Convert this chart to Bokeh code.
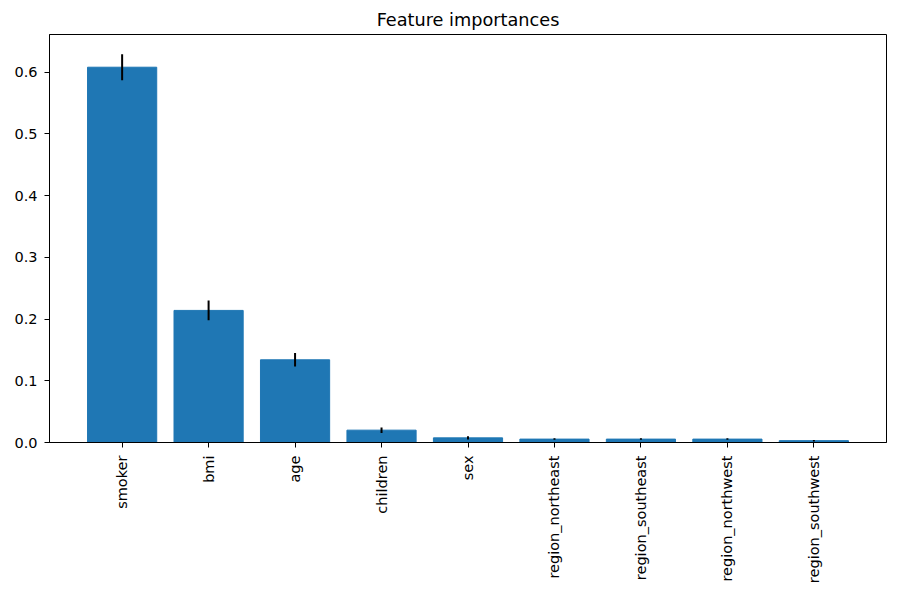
from bokeh.plotting import figure
from bokeh.models import Range1d, FixedTicker, PrintfTickFormatter, ColumnDataSource
from bokeh.embed import file_html
from bokeh.resources import INLINE
import math

features = ["smoker", "bmi", "age", "children", "sex",
            "region_northeast", "region_southeast", "region_northwest", "region_southwest"]
importances = [0.608, 0.214, 0.134, 0.020, 0.0075, 0.0055, 0.0055, 0.0055, 0.003]
std_devs = [0.021, 0.016, 0.011, 0.0045, 0.0025, 0.0012, 0.0012, 0.0012, 0.0012]
y_ticks = [0.0, 0.1, 0.2, 0.3, 0.4, 0.5, 0.6]

xs = list(range(len(features)))
src = ColumnDataSource(dict(
    x=xs, top=importances,
    lo=[v - s for v, s in zip(importances, std_devs)],
    hi=[v + s for v, s in zip(importances, std_devs)],
))

FONT = "DejaVu Sans"

p = figure(width=900, height=586, output_backend="svg", toolbar_location=None,
           x_range=Range1d(-0.84, len(features) - 1 + 0.84), y_range=Range1d(0, 0.661),
           title="Feature importances",
           min_border_left=49, min_border_right=14, min_border_top=34, min_border_bottom=144)

p.vbar(x="x", top="top", bottom=0, width=0.8, source=src, fill_color="#1f77b4", line_color="#1f77b4")
p.segment(x0="x", x1="x", y0="lo", y1="hi", source=src, line_color="black", line_width=2)

p.title.align = "center"
p.title.text_font = FONT
p.title.text_font_size = "17.7px"
p.title.text_font_style = "normal"
p.title.text_color = "black"
p.title.standoff = 10

p.grid.visible = False
p.outline_line_color = "black"
p.outline_line_width = 1
p.outline_line_alpha = 1

p.xaxis.ticker = FixedTicker(ticks=xs)
p.xaxis.major_label_overrides = {i: f for i, f in enumerate(features)}
p.xaxis.major_label_orientation = math.pi / 2
p.yaxis.ticker = FixedTicker(ticks=y_ticks)
p.yaxis.formatter = PrintfTickFormatter(format="%.1f")

for ax in (p.xaxis, p.yaxis):
    ax.major_label_text_font = FONT
    ax.major_label_text_font_size = "14.5px"
    ax.major_label_text_color = "black"
    ax.axis_line_color = "black"
    ax.major_tick_line_color = "black"
    ax.major_tick_out = 5
    ax.major_tick_in = 0
    ax.minor_tick_line_color = None
p.xaxis.major_label_standoff = 8
p.yaxis.major_label_standoff = 7

open("out.html", "w").write(file_html(p, INLINE))
